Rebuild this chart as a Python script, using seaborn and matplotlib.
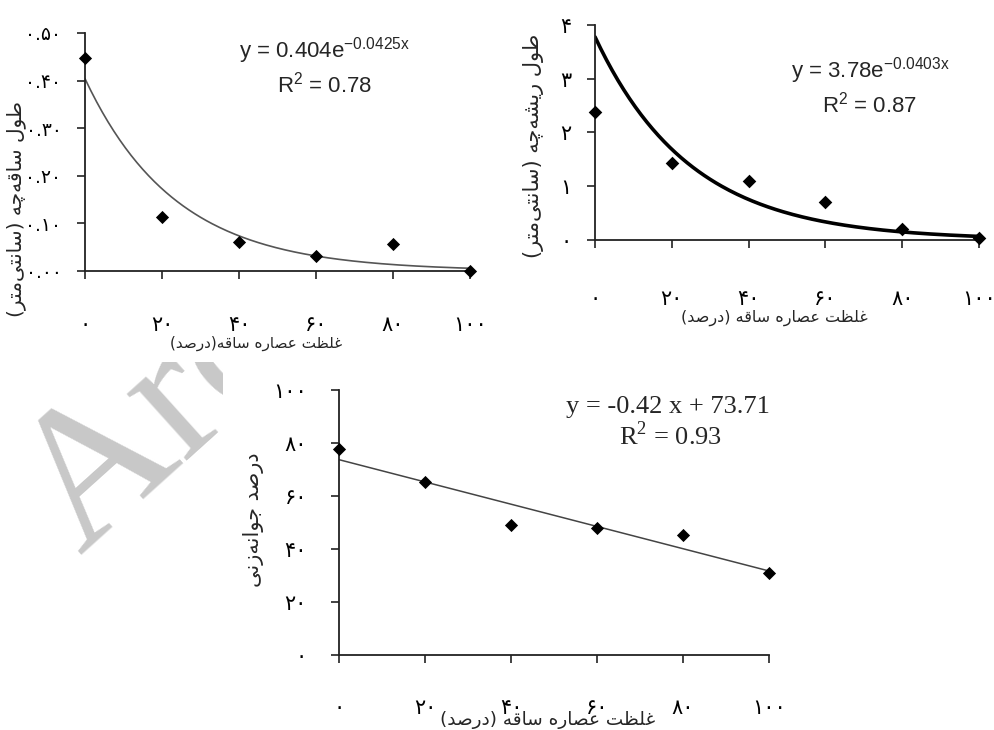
import numpy as np
import matplotlib
matplotlib.use("Agg")
import matplotlib.pyplot as plt
import seaborn as sns
from matplotlib.transforms import Bbox, TransformedBbox

# ---------------- data ----------------
conc = [0, 20, 40, 60, 80, 100]
shoot_len = [0.448, 0.113, 0.060, 0.032, 0.056, 0.0]
root_len = [2.39, 1.43, 1.10, 0.70, 0.20, 0.03]
germ_pct = [77.6, 65.3, 49.1, 47.8, 45.4, 30.8]

shoot_fit = (0.404, -0.0425)   # y = a*exp(b*x)
root_fit = (3.78, -0.0403)
germ_fit = (-0.42, 73.71)      # y = m*x + c

x_ticks = [0, 20, 40, 60, 80, 100]
x_tick_labels = ["۰", "۲۰", "۴۰", "۶۰", "۸۰", "۱۰۰"]
shoot_ticks = [0.0, 0.1, 0.2, 0.3, 0.4, 0.5]
shoot_tick_labels = ["۰.۰۰", "۰.۱۰", "۰.۲۰", "۰.۳۰", "۰.۴۰", "۰.۵۰"]
root_ticks = [0, 1, 2, 3, 4]
root_tick_labels = ["۰", "۱", "۲", "۳", "۴"]
germ_ticks = [0, 20, 40, 60, 80, 100]
germ_tick_labels = ["۰", "۲۰", "۴۰", "۶۰", "۸۰", "۱۰۰"]

shoot_ylabel = "طول ساقه‌چه (سانتی‌متر)"
root_ylabel = "طول ریشه‌چه (سانتی‌متر)"
germ_ylabel = "درصد جوانه‌زنی"
xlabel_1 = "غلظت عصاره ساقه(درصد)"
xlabel_2 = "غلظت عصاره ساقه (درصد)"

# ------------- minimal Arabic-script shaping (presentation forms + RTL) -------------
FORMS = {
    'ا': ('\uFE8D', '\uFE8E', None, None),
    'د': ('\uFEA9', '\uFEAA', None, None),
    'ر': ('\uFEAD', '\uFEAE', None, None),
    'ز': ('\uFEAF', '\uFEB0', None, None),
    'و': ('\uFEED', '\uFEEE', None, None),
    'ت': ('\uFE95', '\uFE96', '\uFE97', '\uFE98'),
    'ج': ('\uFE9D', '\uFE9E', '\uFE9F', '\uFEA0'),
    'چ': ('\uFB7A', '\uFB7B', '\uFB7C', '\uFB7D'),
    'س': ('\uFEB1', '\uFEB2', '\uFEB3', '\uFEB4'),
    'ش': ('\uFEB5', '\uFEB6', '\uFEB7', '\uFEB8'),
    'ص': ('\uFEB9', '\uFEBA', '\uFEBB', '\uFEBC'),
    'ط': ('\uFEC1', '\uFEC2', '\uFEC3', '\uFEC4'),
    'ظ': ('\uFEC5', '\uFEC6', '\uFEC7', '\uFEC8'),
    'ع': ('\uFEC9', '\uFECA', '\uFECB', '\uFECC'),
    'غ': ('\uFECD', '\uFECE', '\uFECF', '\uFED0'),
    'ق': ('\uFED5', '\uFED6', '\uFED7', '\uFED8'),
    'ل': ('\uFEDD', '\uFEDE', '\uFEDF', '\uFEE0'),
    'م': ('\uFEE1', '\uFEE2', '\uFEE3', '\uFEE4'),
    'ن': ('\uFEE5', '\uFEE6', '\uFEE7', '\uFEE8'),
    'ه': ('\uFEE9', '\uFEEA', '\uFEEB', '\uFEEC'),
    'ی': ('\uFBFC', '\uFBFD', '\uFBFE', '\uFBFF'),
}


def shape(text):
    chars = list(text)
    out = []
    for i, ch in enumerate(chars):
        if ch not in FORMS:
            out.append(ch)
            continue
        prev = chars[i - 1] if i > 0 else None
        nxt = chars[i + 1] if i + 1 < len(chars) else None
        f = FORMS[ch]
        jp = prev in FORMS and FORMS[prev][2] is not None
        jn = f[2] is not None and nxt in FORMS
        if jp and jn:
            g = f[3]
        elif jp:
            g = f[1]
        elif jn:
            g = f[2]
        else:
            g = f[0]
        out.append(g)
    out = [c for c in out if c != '\u200c']
    mirror = {'(': ')', ')': '('}
    return ''.join(mirror.get(c, c) for c in reversed(out))


# ---------------- style ----------------
sns.set_style("ticks")
plt.rcParams['font.family'] = ['DejaVu Sans']
plt.rcParams['axes.edgecolor'] = '#222222'
plt.rcParams['axes.linewidth'] = 1.3
plt.rcParams['xtick.color'] = '#222222'
plt.rcParams['ytick.color'] = '#222222'
plt.rcParams['xtick.major.size'] = 6
plt.rcParams['ytick.major.size'] = 6
plt.rcParams['xtick.major.width'] = 1.2
plt.rcParams['ytick.major.width'] = 1.2

fig = plt.figure(figsize=(9.94, 7.30), dpi=100)

ax1 = fig.add_axes([85 / 994, 1 - 271 / 730, 385 / 994, 238 / 730])
ax2 = fig.add_axes([595 / 994, 1 - 240 / 730, 384 / 994, 215 / 730])
ax3 = fig.add_axes([339 / 994, 1 - 655 / 730, 430 / 994, 265 / 730])

xfit = np.linspace(0, 100, 201)

EQ_SANS = 'Liberation Sans'
TICK_FS = 15


def style_axes(ax, yticks, ylabels, ylim, xpad, ypad, yfs=TICK_FS):
    ax.set_xlim(0, 100)
    ax.set_ylim(*ylim)
    ax.set_xticks(x_ticks)
    ax.set_xticklabels(x_tick_labels, fontsize=TICK_FS, color='black')
    ax.set_yticks(yticks)
    ax.set_yticklabels(ylabels, fontsize=yfs, color='black')
    ax.tick_params(axis='x', pad=xpad)
    ax.tick_params(axis='y', pad=ypad)
    sns.despine(ax=ax)
    ax.set_facecolor('none')


# ---- panel 1 ----
sns.lineplot(x=xfit, y=shoot_fit[0] * np.exp(shoot_fit[1] * xfit), ax=ax1,
             color='#555555', linewidth=1.2)
sns.scatterplot(x=conc, y=shoot_len, ax=ax1, marker='D', color='black', s=45,
                edgecolor='black', linewidth=0, clip_on=False, zorder=3)
style_axes(ax1, shoot_ticks, shoot_tick_labels, (0, 0.5), 26, 11, yfs=13.5)
ax1.set_xlabel(shape(xlabel_1), fontsize=11)
ax1.xaxis.set_label_coords(0.444, -0.303)
ax1.xaxis.label.set_va('center')
ax1.set_ylabel(shape(shoot_ylabel), fontsize=14.5)
ax1.yaxis.set_label_coords(-0.18, 0.26)
ax1.yaxis.label.set(va='center', ha='center')
ax1.text(0.623, 0.895, r"y = 0.404e$^{\mathregular{-0.0425x}}$", transform=ax1.transAxes,
         ha='center', va='baseline', fontsize=16, family=EQ_SANS)
ax1.text(0.623, 0.752, r"R$^{\mathregular{2}}$ = 0.78", transform=ax1.transAxes,
         ha='center', va='baseline', fontsize=16, family=EQ_SANS)

# ---- panel 2 ----
sns.lineplot(x=xfit, y=root_fit[0] * np.exp(root_fit[1] * xfit), ax=ax2,
             color='black', linewidth=2.6)
sns.scatterplot(x=conc, y=root_len, ax=ax2, marker='D', color='black', s=48,
                edgecolor='black', linewidth=0, clip_on=False, zorder=3)
style_axes(ax2, root_ticks, root_tick_labels, (0, 4), 29, 11)
ax2.set_xlabel(shape(xlabel_2), fontsize=11.5)
ax2.xaxis.set_label_coords(0.466, -0.363)
ax2.xaxis.label.set_va('center')
ax2.set_ylabel(shape(root_ylabel), fontsize=15)
ax2.yaxis.set_label_coords(-0.161, 0.437)
ax2.yaxis.label.set(va='center', ha='center')
ax2.text(0.716, 0.758, r"y = 3.78e$^{\mathregular{-0.0403x}}$", transform=ax2.transAxes,
         ha='center', va='baseline', fontsize=16, family=EQ_SANS)
ax2.text(0.714, 0.595, r"R$^{\mathregular{2}}$ = 0.87", transform=ax2.transAxes,
         ha='center', va='baseline', fontsize=16, family=EQ_SANS)

# ---- panel 3 ----
sns.lineplot(x=xfit, y=germ_fit[0] * xfit + germ_fit[1], ax=ax3,
             color='#444444', linewidth=1.1)
sns.scatterplot(x=conc, y=germ_pct, ax=ax3, marker='D', color='black', s=45,
                edgecolor='black', linewidth=0, clip_on=False, zorder=3)
style_axes(ax3, germ_ticks, germ_tick_labels, (0, 100), 25, 17)
ax3.set_xlabel(shape(xlabel_2), fontsize=13.3)
ax3.xaxis.set_label_coords(0.486, -0.245)
ax3.xaxis.label.set_va('center')
ax3.set_ylabel(shape(germ_ylabel), fontsize=15)
ax3.yaxis.set_label_coords(-0.2, 0.51)
ax3.yaxis.label.set(va='center', ha='center')
ax3.text(0.765, 0.913, r"y = -0.42 x + 73.71", transform=ax3.transAxes,
         ha='center', va='baseline', fontsize=19, family='Liberation Serif')
ax3.text(0.77, 0.792, r"R$^{\mathregular{2}}$ = 0.93", transform=ax3.transAxes,
         ha='center', va='baseline', fontsize=19, family='Liberation Serif')

# ---- watermark ----
wm = fig.text(80 / 994, 1 - 556 / 730, "Arc", rotation=42, rotation_mode='anchor',
              ha='left', va='baseline', fontsize=140, family='Liberation Serif',
              color='#c8c8c8', zorder=0)
wm.set_clip_box(TransformedBbox(Bbox([[0, 0], [223 / 994, 368 / 730]]), fig.transFigure))

fig.savefig("out.png", dpi=100)
